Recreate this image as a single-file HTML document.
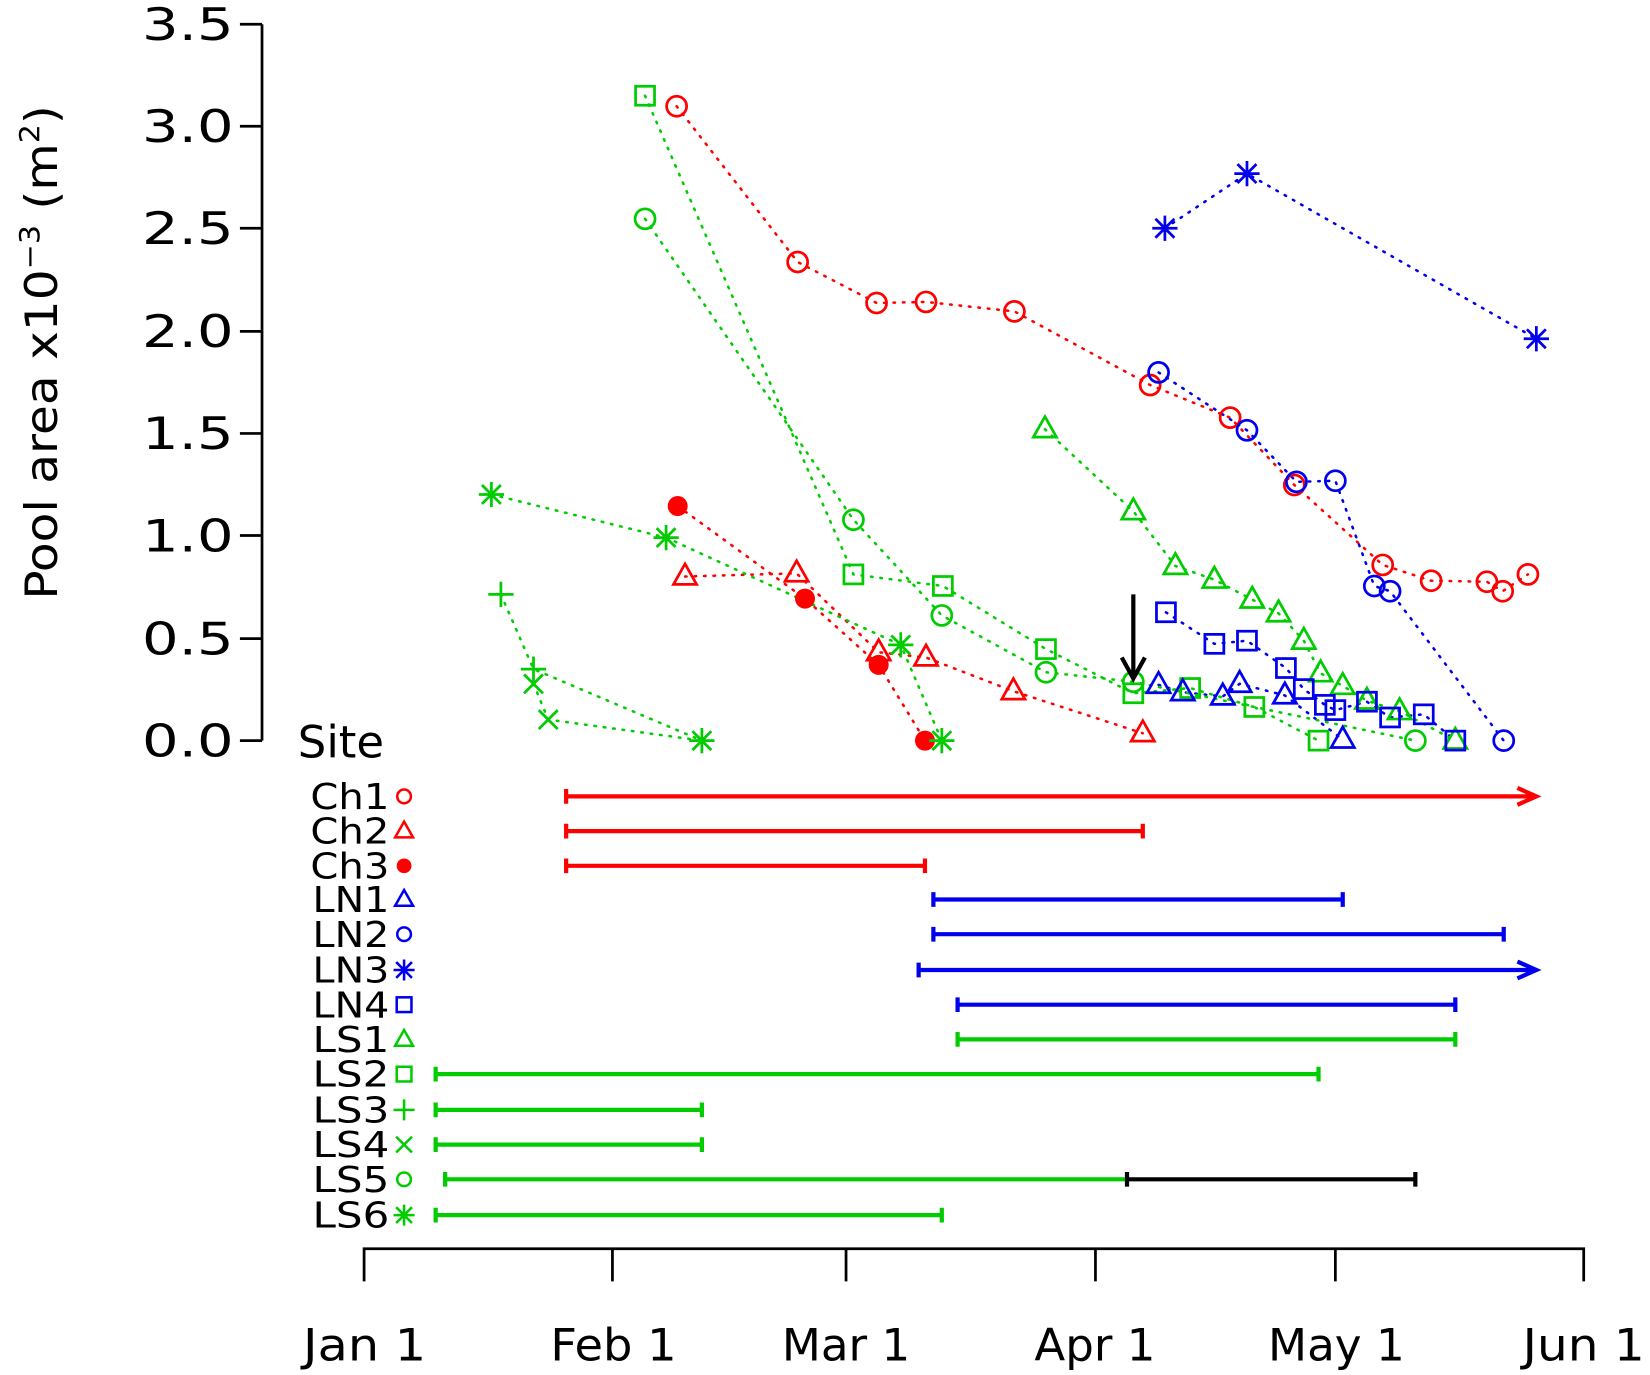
<!DOCTYPE html>
<html><head><meta charset="utf-8"><style>html,body{margin:0;padding:0;background:#fff}svg{display:block}</style></head><body>
<svg width="1650" height="1375" viewBox="0 0 1568 1307" preserveAspectRatio="none" xmlns="http://www.w3.org/2000/svg" font-family="'DejaVu Sans','Liberation Sans',sans-serif">
<defs>
<g id="ci"><circle r="9.5" fill="none" stroke-width="2.6"/></g>
<g id="tr"><polygon points="0,-12 11,7.5 -11,7.5" fill="none" stroke-width="2.6"/></g>
<g id="sq"><rect x="-9" y="-9" width="18" height="18" fill="none" stroke-width="2.6"/></g>
<g id="pl"><path d="M-12,0H12M0,-12V12" stroke-width="2.6"/></g>
<g id="xx"><path d="M-9,-9L9,9M-9,9L9,-9" stroke-width="2.6"/></g>
<g id="as"><path d="M-12,0H12M0,-12V12M-9,-9L9,9M-9,9L9,-9" stroke-width="2.6"/></g>
<g id="fc"><circle r="9.5"/></g>
<g id="lci"><circle r="6.5" fill="none" stroke-width="2.4"/></g>
<g id="ltr"><polygon points="0,-9 8.5,6 -8.5,6" fill="none" stroke-width="2.4"/></g>
<g id="lsq"><rect x="-7" y="-7" width="14" height="14" fill="none" stroke-width="2.4"/></g>
<g id="lpl"><path d="M-10,0H10M0,-10V10" stroke-width="2.4"/></g>
<g id="lxx"><path d="M-7.5,-7.5L7.5,7.5M-7.5,7.5L7.5,-7.5" stroke-width="2.4"/></g>
<g id="las"><path d="M-10,0H10M0,-10V10M-7.5,-7.5L7.5,7.5M-7.5,7.5L7.5,-7.5" stroke-width="2.4"/></g>
<g id="lfc"><circle r="7"/></g>
</defs>
<g stroke="#000" stroke-width="2.6" fill="none">
<path d="M249,23V704M228,23H249M228,120H249M228,217H249M228,315H249M228,412H249M228,509H249M228,607H249M228,704H249"/>
<path d="M346,1218V1187H1505V1218M582,1187V1218M804,1187V1218M1041,1187V1218M1269,1187V1218"/>
</g>
<g font-size="42" text-anchor="end" fill="#000" lengthAdjust="spacingAndGlyphs">
<text x="222" y="38" textLength="87" lengthAdjust="spacingAndGlyphs">3.5</text><text x="222" y="135" textLength="87" lengthAdjust="spacingAndGlyphs">3.0</text><text x="222" y="232" textLength="87" lengthAdjust="spacingAndGlyphs">2.5</text><text x="222" y="330" textLength="87" lengthAdjust="spacingAndGlyphs">2.0</text><text x="222" y="427" textLength="87" lengthAdjust="spacingAndGlyphs">1.5</text><text x="222" y="524" textLength="87" lengthAdjust="spacingAndGlyphs">1.0</text><text x="222" y="622" textLength="87" lengthAdjust="spacingAndGlyphs">0.5</text><text x="222" y="719" textLength="87" lengthAdjust="spacingAndGlyphs">0.0</text>
</g>
<g font-size="42" fill="#000">
<text x="288" y="1293" textLength="117" lengthAdjust="spacingAndGlyphs">Jan 1</text><text x="523" y="1293" textLength="120" lengthAdjust="spacingAndGlyphs">Feb 1</text><text x="743" y="1293" textLength="122" lengthAdjust="spacingAndGlyphs">Mar 1</text><text x="983" y="1293" textLength="115" lengthAdjust="spacingAndGlyphs">Apr 1</text><text x="1205" y="1293" textLength="130" lengthAdjust="spacingAndGlyphs">May 1</text><text x="1447" y="1293" textLength="116" lengthAdjust="spacingAndGlyphs">Jun 1</text>
</g>
<text transform="translate(54,570) rotate(-90)" font-size="42" textLength="470" lengthAdjust="spacingAndGlyphs">Pool area x10<tspan font-size="26" dy="-17">−3</tspan><tspan dy="17"> (m</tspan><tspan font-size="26" dy="-17">2</tspan><tspan dy="17">)</tspan></text>

<g fill="none" stroke-width="2.4" stroke-dasharray="1.5,7.5" stroke-linecap="round">
<polyline stroke="#f00" points="643,101 758,249 833,288 880,287 964,296 1093,366 1169,397 1230,461 1314,537 1360,552 1413,553 1428,562 1452,546"/>
<polyline stroke="#f00" points="651,548 757,545 835,620 880,625 963,657 1086,697"/>
<polyline stroke="#f00" points="644,481 765,569 835,632 879,704"/>
<polyline stroke="#00e" points="1101,651 1124,658 1162,662 1178,650 1221,661 1276,703"/>
<polyline stroke="#00e" points="1101,354 1185,409 1232,458 1269,457 1306,557 1321,562 1429,704"/>
<polyline stroke="#00e" points="1107,217 1185,165 1460,322"/>
<polyline stroke="#00e" points="1108,582 1154,612 1185,609 1222,635 1239,655 1259,670 1269,675 1299,667 1321,682 1353,679 1383,704"/>
<polyline stroke="#0c0" points="993,408 1077,486 1117,538 1154,551 1190,570 1215,583 1239,609 1255,640 1276,652 1299,666 1330,676 1383,704"/>
<polyline stroke="#0c0" points="613,91 811,546 896,557 994,617 1077,659 1131,654 1192,672 1253,704"/>
<polyline stroke="#0c0" points="476,565 507,636 667,704"/>
<polyline stroke="#0c0" points="507,650 521,684 667,704"/>
<polyline stroke="#0c0" points="613,208 811,494 895,585 994,639 1077,648 1345,704"/>
<polyline stroke="#0c0" points="467,470 633,511 856,613 895,704"/>
</g>
<g stroke="#f00" fill="#f00">
<use href="#ci" x="643" y="101"/><use href="#ci" x="758" y="249"/><use href="#ci" x="833" y="288"/><use href="#ci" x="880" y="287"/><use href="#ci" x="964" y="296"/><use href="#ci" x="1093" y="366"/><use href="#ci" x="1169" y="397"/><use href="#ci" x="1230" y="461"/><use href="#ci" x="1314" y="537"/><use href="#ci" x="1360" y="552"/><use href="#ci" x="1413" y="553"/><use href="#ci" x="1428" y="562"/><use href="#ci" x="1452" y="546"/>
<use href="#tr" x="651" y="548"/><use href="#tr" x="757" y="545"/><use href="#tr" x="835" y="620"/><use href="#tr" x="880" y="625"/><use href="#tr" x="963" y="657"/><use href="#tr" x="1086" y="697"/>
<use href="#fc" x="644" y="481" stroke="none"/><use href="#fc" x="765" y="569" stroke="none"/><use href="#fc" x="835" y="632" stroke="none"/><use href="#fc" x="879" y="704" stroke="none"/>
</g>
<g stroke="#0c0" fill="#0c0">
<use href="#tr" x="993" y="408"/><use href="#tr" x="1077" y="486"/><use href="#tr" x="1117" y="538"/><use href="#tr" x="1154" y="551"/><use href="#tr" x="1190" y="570"/><use href="#tr" x="1215" y="583"/><use href="#tr" x="1239" y="609"/><use href="#tr" x="1255" y="640"/><use href="#tr" x="1276" y="652"/><use href="#tr" x="1299" y="666"/><use href="#tr" x="1330" y="676"/><use href="#tr" x="1383" y="704"/>
<use href="#sq" x="613" y="91"/><use href="#sq" x="811" y="546"/><use href="#sq" x="896" y="557"/><use href="#sq" x="994" y="617"/><use href="#sq" x="1077" y="659"/><use href="#sq" x="1131" y="654"/><use href="#sq" x="1192" y="672"/><use href="#sq" x="1253" y="704"/>
<use href="#pl" x="476" y="565"/><use href="#pl" x="507" y="636"/>
<use href="#xx" x="507" y="650"/><use href="#xx" x="521" y="684"/>
<use href="#ci" x="613" y="208"/><use href="#ci" x="811" y="494"/><use href="#ci" x="895" y="585"/><use href="#ci" x="994" y="639"/><use href="#ci" x="1077" y="648"/><use href="#ci" x="1345" y="704"/>
<use href="#as" x="467" y="470"/><use href="#as" x="633" y="511"/><use href="#as" x="856" y="613"/><use href="#as" x="895" y="704"/><use href="#as" x="667" y="704"/>
</g>
<g stroke="#00e" fill="#00e">
<use href="#tr" x="1101" y="651"/><use href="#tr" x="1124" y="658"/><use href="#tr" x="1162" y="662"/><use href="#tr" x="1178" y="650"/><use href="#tr" x="1221" y="661"/><use href="#tr" x="1276" y="703"/>
<use href="#ci" x="1101" y="354"/><use href="#ci" x="1185" y="409"/><use href="#ci" x="1232" y="458"/><use href="#ci" x="1269" y="457"/><use href="#ci" x="1306" y="557"/><use href="#ci" x="1321" y="562"/><use href="#ci" x="1429" y="704"/>
<use href="#as" x="1107" y="217"/><use href="#as" x="1185" y="165"/><use href="#as" x="1460" y="322"/>
<use href="#sq" x="1108" y="582"/><use href="#sq" x="1154" y="612"/><use href="#sq" x="1185" y="609"/><use href="#sq" x="1222" y="635"/><use href="#sq" x="1239" y="655"/><use href="#sq" x="1259" y="670"/><use href="#sq" x="1269" y="675"/><use href="#sq" x="1299" y="667"/><use href="#sq" x="1321" y="682"/><use href="#sq" x="1353" y="679"/><use href="#sq" x="1383" y="704"/>
</g>
<path d="M1077,565V644M1066,625L1077,645L1088,625" stroke="#000" stroke-width="4" fill="none"/>

<text x="283" y="720" font-size="42" textLength="82" lengthAdjust="spacingAndGlyphs">Site</text>
<g font-size="34" fill="#000">
<text x="295" y="769" textLength="75" lengthAdjust="spacingAndGlyphs">Ch1</text><text x="295" y="802" textLength="75" lengthAdjust="spacingAndGlyphs">Ch2</text><text x="295" y="835" textLength="75" lengthAdjust="spacingAndGlyphs">Ch3</text><text x="297" y="867" textLength="73" lengthAdjust="spacingAndGlyphs">LN1</text><text x="297" y="900" textLength="73" lengthAdjust="spacingAndGlyphs">LN2</text><text x="297" y="934" textLength="73" lengthAdjust="spacingAndGlyphs">LN3</text><text x="297" y="967" textLength="73" lengthAdjust="spacingAndGlyphs">LN4</text><text x="297" y="1000" textLength="73" lengthAdjust="spacingAndGlyphs">LS1</text><text x="297" y="1033" textLength="73" lengthAdjust="spacingAndGlyphs">LS2</text><text x="297" y="1067" textLength="73" lengthAdjust="spacingAndGlyphs">LS3</text><text x="297" y="1100" textLength="73" lengthAdjust="spacingAndGlyphs">LS4</text><text x="297" y="1133" textLength="73" lengthAdjust="spacingAndGlyphs">LS5</text><text x="297" y="1167" textLength="73" lengthAdjust="spacingAndGlyphs">LS6</text>
</g>
<g stroke="#f00" fill="#f00"><use href="#lci" x="384" y="757"/><use href="#ltr" x="384" y="790"/><use href="#lfc" x="384" y="823" stroke="none"/></g>
<g stroke="#00e" fill="#00e"><use href="#ltr" x="384" y="855"/><use href="#lci" x="384" y="888"/><use href="#las" x="384" y="922"/><use href="#lsq" x="384" y="955"/></g>
<g stroke="#0c0" fill="#0c0"><use href="#ltr" x="384" y="988"/><use href="#lsq" x="384" y="1021"/><use href="#lpl" x="384" y="1055"/><use href="#lxx" x="384" y="1088"/><use href="#lci" x="384" y="1121"/><use href="#las" x="384" y="1155"/></g>
<g stroke-width="4" fill="none">
<g stroke="#f00">
<path d="M538,757H1458M1442,749L1460,757L1442,765M538,750V764"/>
<path d="M538,790H1086M538,783V797M1086,783V797"/>
<path d="M538,823H879M538,816V830M879,816V830"/>
</g>
<g stroke="#00e">
<path d="M887,855H1276M887,848V862M1276,848V862"/>
<path d="M887,888H1429M887,881V895M1429,881V895"/>
<path d="M873,922H1458M873,915V929M1442,914L1460,922L1442,930"/>
<path d="M910,955H1383M910,948V962M1383,948V962"/>
</g>
<g stroke="#0c0">
<path d="M910,988H1383M910,981V995M1383,981V995"/>
<path d="M414,1021H1253M414,1014V1028M1253,1014V1028"/>
<path d="M414,1055H667M414,1048V1062M667,1048V1062"/>
<path d="M414,1088H667M414,1081V1095M667,1081V1095"/>
<path d="M423,1121H1071M423,1114V1128"/>
<path d="M414,1155H895M414,1148V1162M895,1148V1162"/>
</g>
<path stroke="#000" d="M1071,1121H1345M1071,1114V1128M1345,1114V1128"/>
</g>
</svg>
</body></html>
